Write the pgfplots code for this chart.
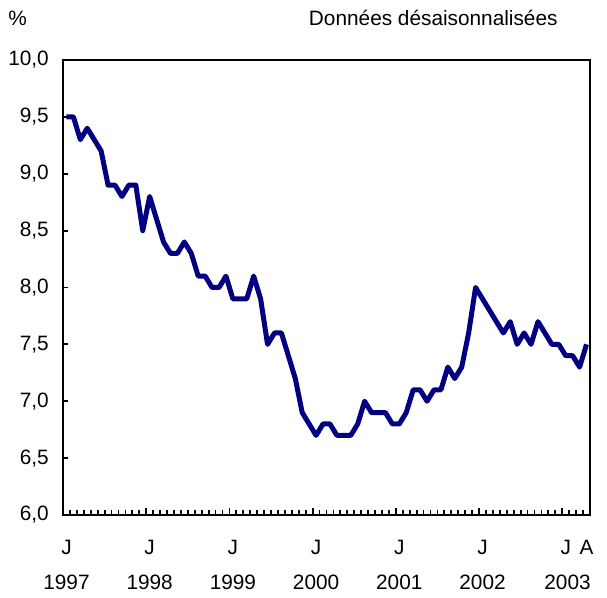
\documentclass[border=0pt]{standalone}
\usepackage{pgfplots}
\pgfplotsset{compat=1.18}
\usepackage{fontspec}
\setmainfont{Liberation Sans}
\definecolor{navyline}{RGB}{0,0,128}
\begin{document}
\begin{tikzpicture}
\useasboundingbox (-31.5pt,-41.5pt) rectangle (272pt,257.5pt);
\begin{axis}[
  at={(0pt,0pt)}, anchor=south west,
  scale only axis, width=263.5pt, height=227.5pt,
  xmin=-0.5, xmax=75.5, ymin=6, ymax=10,
  axis line style={line width=1.2pt},
  tick align=inside,
  xtick pos=left, ytick pos=left,
  ytick={6,6.5,7,7.5,8,8.5,9,9.5,10},
  yticklabel style={font=\fontsize{10.4}{12.5}\selectfont, xshift=-3.6pt},
  /pgf/number format/.cd, use comma, fixed, fixed zerofill, precision=1, assume math mode=true, /pgfplots/.cd,
  xtick={0.5,1.5,2.5,3.5,4.5,5.5,6.5,7.5,8.5,9.5,10.5,12.5,13.5,14.5,15.5,16.5,17.5,18.5,19.5,20.5,21.5,22.5,24.5,25.5,26.5,27.5,28.5,29.5,30.5,31.5,32.5,33.5,34.5,36.5,37.5,38.5,39.5,40.5,41.5,42.5,43.5,44.5,45.5,46.5,48.5,49.5,50.5,51.5,52.5,53.5,54.5,55.5,56.5,57.5,58.5,60.5,61.5,62.5,63.5,64.5,65.5,66.5,67.5,68.5,69.5,70.5,72.5,73.5,74.5},
  xticklabels={},
  major tick length=2.4pt,
  tick style={line width=0.9pt, black},
  extra x ticks={11.5,23.5,35.5,47.5,59.5,71.5},
  extra x tick labels={},
  extra x tick style={major tick length=3.6pt},
  clip=false,
]
\addplot[navyline, line width=2.5pt, line join=round] coordinates {
(0,9.5) (1,9.5) (2,9.3) (3,9.4) (4,9.3) (5,9.2) (6,8.9) (7,8.9) (8,8.8) (9,8.9) (10,8.9) (11,8.5)
(12,8.8) (13,8.6) (14,8.4) (15,8.3) (16,8.3) (17,8.4) (18,8.3) (19,8.1) (20,8.1) (21,8.0) (22,8.0) (23,8.1)
(24,7.9) (25,7.9) (26,7.9) (27,8.1) (28,7.9) (29,7.5) (30,7.6) (31,7.6) (32,7.4) (33,7.2) (34,6.9) (35,6.8)
(36,6.7) (37,6.8) (38,6.8) (39,6.7) (40,6.7) (41,6.7) (42,6.8) (43,7.0) (44,6.9) (45,6.9) (46,6.9) (47,6.8)
(48,6.8) (49,6.9) (50,7.1) (51,7.1) (52,7.0) (53,7.1) (54,7.1) (55,7.3) (56,7.2) (57,7.3) (58,7.6) (59,8.0)
(60,7.9) (61,7.8) (62,7.7) (63,7.6) (64,7.7) (65,7.5) (66,7.6) (67,7.5) (68,7.7) (69,7.6) (70,7.5) (71,7.5)
(72,7.4) (73,7.4) (74,7.3) (75,7.5)
};
\node[anchor=west, inner sep=0pt, font=\fontsize{10.4}{12.5}\selectfont] at (rel axis cs:0,1) [xshift=-27.5pt, yshift=21pt] {\%};
\node[anchor=east, inner sep=0pt, font=\fontsize{10.4}{12.5}\selectfont] at (rel axis cs:1,1) [xshift=-16pt, yshift=21pt] {Données désaisonnalisées};
\end{axis}
\begin{axis}[
  at={(0pt,0pt)}, anchor=south west,
  scale only axis, width=263.5pt, height=227.5pt,
  xmin=-0.5, xmax=75.5, ymin=6, ymax=10,
  axis line style={draw=none},
  tick style={draw=none},
  xtick pos=left,
  ytick=\empty,
  xtick={0,12,24,36,48,60,72,75},
  xticklabels={J\\[5pt]1997,J\\[5pt]1998,J\\[5pt]1999,J\\[5pt]2000,J\\[5pt]2001,J\\[5pt]2002,J,A\\[5pt]\hspace*{-19pt}2003},
  major tick length=0pt,
  xticklabel style={align=center, font=\fontsize{10.4}{12.5}\selectfont, yshift=-9pt},
]
\end{axis}
\end{tikzpicture}
\end{document}
